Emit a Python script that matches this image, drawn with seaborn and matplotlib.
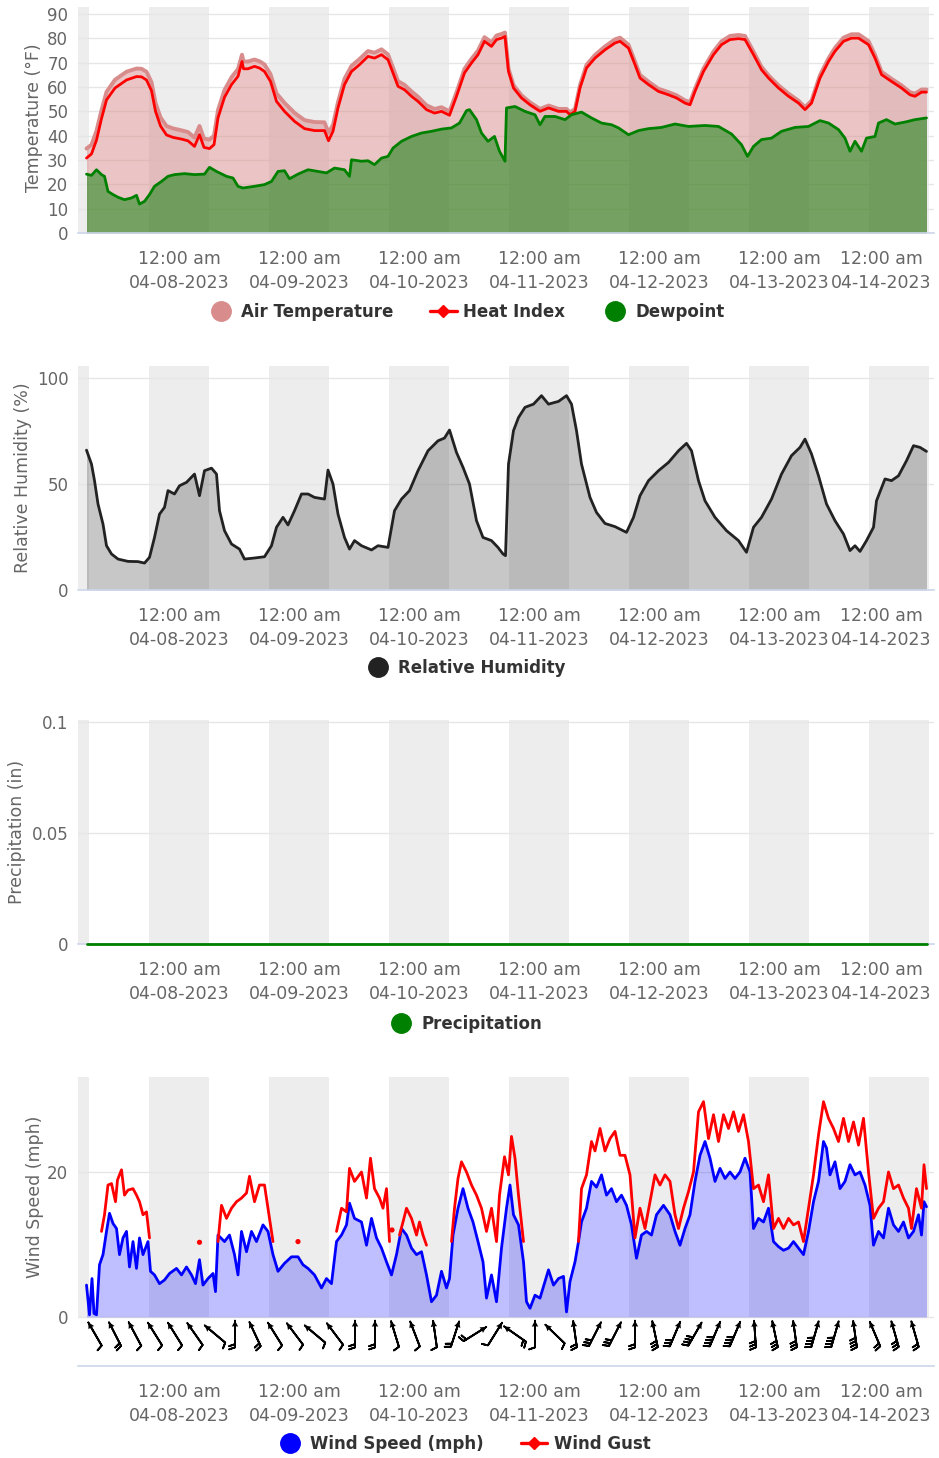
import numpy as np
import pandas as pd
import matplotlib
matplotlib.use("Agg")
import matplotlib.pyplot as plt
import matplotlib.transforms as mtransforms
from matplotlib.lines import Line2D
import seaborn as sns

sns.set_theme(style="white")
plt.rcParams["font.family"] = ["DejaVu Sans"]

# ---------------- data (hours since 2023-04-07 00:00) ----------------
temp_hours = [5.5, 6.5, 7.5, 8.5, 9.5, 11.2, 13.5, 15.5, 16.5, 17.5,
              18.5, 19.3, 20.3, 21.5, 22.8, 24.5, 25.8, 27.1, 28.1, 29.0,
              30.1, 31.0, 31.8, 33.1, 34.5, 35.8, 36.6, 36.9, 37.8, 39.1,
              40.1, 41.1, 42.3, 43.5, 45.1, 47.1, 49.1, 51.1, 53.1, 53.9,
              54.8, 55.8, 57.1, 58.5, 60.1, 61.8, 63.1, 64.5, 65.8, 66.8,
              67.8, 69.1, 70.5, 71.8, 73.5, 75.1, 76.5, 78.1, 79.5, 81.1,
              82.5, 83.8, 85.1, 86.5, 87.5, 88.5, 89.2, 89.9, 90.9, 92.5,
              94.2, 96.2, 97.9, 99.9, 101.5, 102.2, 103.2, 104.2, 105.5, 107.2,
              109.2, 111.2, 112.2, 113.9, 115.2, 116.2, 117.9, 119.9, 121.9, 123.5,
              125.2, 126.2, 127.2, 128.9, 130.9, 132.5, 134.2, 135.9, 137.2, 138.9,
              140.5, 141.9, 143.9, 145.9, 147.9, 149.2, 150.5, 152.2, 153.9, 155.2,
              156.9, 158.5, 159.9, 161.9, 163.2, 164.5, 166.5, 168.5, 170.2, 171.2,
              172.5, 173.5]
heat_index = [30.8, 32.5, 38.2, 47.0, 54.7, 59.6, 62.9, 64.3, 64.2, 62.9,
              58.5, 50.0, 44.0, 40.3, 39.3, 38.6, 37.9, 35.6, 40.4, 35.2,
              34.7, 36.3, 47.3, 55.8, 61.0, 64.4, 70.5, 67.5, 67.5, 68.5,
              67.8, 66.4, 62.3, 54.1, 50.0, 45.9, 42.9, 42.1, 42.1, 37.9,
              41.8, 51.4, 61.0, 66.4, 69.2, 72.6, 71.9, 73.3, 71.2, 65.8,
              60.3, 58.9, 56.2, 54.1, 50.7, 49.3, 50.0, 48.4, 56.2, 65.8,
              69.9, 73.3, 78.8, 76.7, 79.5, 80.1, 80.8, 66.4, 59.6, 55.5,
              52.7, 50.0, 51.4, 50.0, 50.0, 48.6, 50.0, 59.6, 67.8, 71.9,
              75.3, 78.1, 78.8, 76.0, 69.2, 63.7, 61.0, 58.2, 56.8, 55.5,
              53.4, 52.7, 58.2, 66.4, 73.3, 77.4, 79.5, 79.9, 79.5, 73.3,
              67.1, 63.7, 59.6, 56.2, 53.4, 50.7, 53.4, 63.7, 70.5, 74.7,
              78.8, 80.1, 80.1, 77.4, 71.9, 65.1, 62.3, 59.6, 56.8, 56.2,
              57.9, 57.9]
air_temp = [34.7, 36.3, 42.0, 50.5, 58.0, 63.0, 66.3, 67.6, 67.5, 66.3,
            62.0, 53.5, 47.5, 44.0, 43.0, 42.2, 41.5, 39.2, 44.0, 38.8,
            38.4, 40.0, 50.5, 58.8, 64.0, 67.4, 73.3, 70.5, 70.5, 71.3,
            70.6, 69.3, 65.3, 57.4, 53.5, 49.4, 46.4, 45.6, 45.5, 41.2,
            44.5, 53.8, 63.4, 68.7, 71.5, 74.8, 74.1, 75.5, 73.4, 68.0,
            62.4, 60.9, 58.2, 56.0, 52.5, 51.0, 51.7, 50.0, 57.8, 67.5,
            71.6, 75.0, 80.5, 78.4, 81.2, 81.8, 82.4, 67.6, 60.8, 56.6,
            53.7, 51.0, 52.4, 51.0, 51.0, 49.6, 51.0, 60.8, 69.1, 73.2,
            76.7, 79.6, 80.3, 77.4, 70.5, 65.0, 62.2, 59.3, 57.9, 56.6,
            54.5, 53.8, 59.3, 67.6, 74.6, 78.8, 81.0, 81.4, 81.0, 74.6,
            68.3, 64.8, 60.7, 57.3, 54.4, 51.7, 54.4, 64.9, 71.8, 76.1,
            80.3, 81.7, 81.7, 78.9, 73.2, 66.3, 63.4, 60.7, 57.9, 57.3,
            59.0, 59.0]

dew_hours = [5.5, 6.5, 7.5, 8.5, 9.1, 9.8, 10.8, 11.8, 13.1, 14.5,
             15.5, 16.1, 17.1, 18.1, 19.1, 20.5, 21.8, 23.1, 25.1, 27.1,
             29.1, 30.1, 31.5, 33.5, 34.8, 35.8, 36.8, 39.1, 41.1, 42.5,
             43.8, 45.1, 46.1, 47.8, 49.8, 51.8, 53.5, 55.1, 57.1, 58.1,
             58.5, 60.5, 61.8, 63.1, 64.5, 65.8, 66.8, 68.5, 70.5, 72.5,
             74.5, 76.5, 78.5, 80.1, 81.5, 82.1, 83.5, 84.5, 85.8, 87.1,
             88.1, 89.2, 89.5, 91.2, 93.2, 95.2, 96.2, 97.2, 99.2, 101.2,
             102.5, 104.5, 106.5, 108.5, 110.5, 111.9, 113.9, 115.9, 117.9, 120.5,
             123.2, 125.9, 129.2, 131.9, 134.5, 136.5, 137.7, 138.9, 140.5, 142.5,
             144.5, 147.2, 149.9, 152.2, 153.9, 155.9, 157.2, 158.2, 159.2, 160.5,
             161.5, 163.2, 163.9, 165.5, 167.2, 169.2, 171.2, 173.5]
dewpoint = [24.2, 23.7, 26.0, 24.0, 23.3, 17.1, 15.8, 14.7, 13.7, 14.4,
            15.5, 11.9, 13.0, 15.8, 19.2, 21.2, 23.3, 24.0, 24.4, 24.0,
            24.2, 27.0, 25.3, 23.3, 22.6, 19.2, 18.5, 19.2, 19.9, 21.2,
            25.3, 25.6, 22.3, 24.2, 26.0, 25.3, 24.7, 26.7, 26.0, 23.3,
            30.1, 29.5, 29.7, 28.1, 30.8, 31.5, 34.9, 37.7, 39.7, 41.1,
            41.8, 42.7, 43.2, 45.2, 50.3, 50.7, 46.6, 41.1, 37.7, 39.7,
            33.6, 29.5, 51.4, 52.0, 50.0, 48.6, 44.5, 47.9, 47.9, 46.6,
            48.6, 49.7, 47.3, 45.2, 44.5, 43.2, 40.4, 42.1, 42.9, 43.4,
            44.8, 43.8, 44.2, 43.8, 40.7, 36.3, 31.5, 35.6, 38.4, 39.0,
            41.8, 43.4, 43.8, 46.2, 45.2, 42.5, 39.0, 33.6, 37.7, 33.6,
            39.0, 39.7, 45.2, 46.6, 44.8, 45.6, 46.6, 47.3]

rh_hours = [5.5, 6.5, 7.1, 7.8, 8.8, 9.5, 10.5, 11.8, 13.8, 15.8,
            17.1, 18.1, 19.1, 20.1, 21.1, 21.8, 23.1, 24.1, 25.5, 27.1,
            28.1, 29.1, 30.5, 31.5, 32.1, 33.1, 34.5, 36.1, 37.1, 39.1,
            41.1, 42.5, 43.5, 44.8, 45.8, 47.1, 48.5, 49.8, 51.1, 53.1,
            53.8, 54.8, 55.8, 57.1, 58.1, 59.1, 60.5, 62.5, 63.8, 65.8,
            67.1, 68.5, 70.1, 71.8, 73.8, 75.8, 77.1, 78.1, 79.5, 80.8,
            82.1, 83.5, 84.8, 86.5, 87.8, 88.8, 89.3, 89.9, 90.9, 91.9,
            93.2, 94.9, 96.5, 97.9, 99.9, 101.5, 102.5, 103.5, 104.5, 106.2,
            107.5, 109.2, 111.2, 113.5, 114.9, 116.2, 117.9, 119.9, 121.9, 123.9,
            125.5, 126.5, 127.9, 129.2, 131.2, 133.5, 135.9, 137.5, 138.9, 140.5,
            142.5, 144.5, 146.5, 148.2, 149.2, 150.5, 151.9, 153.5, 155.2, 156.9,
            158.2, 159.2, 160.2, 161.5, 162.9, 163.5, 165.2, 166.5, 167.9, 169.5,
            170.9, 172.2, 173.5]
rel_humidity = [66.0, 59.4, 51.6, 40.6, 31.1, 20.9, 17.0, 14.6, 13.5, 13.4,
                12.7, 15.4, 24.8, 35.8, 39.0, 46.9, 45.3, 49.2, 50.8, 54.7,
                44.5, 56.3, 57.5, 54.7, 37.4, 28.0, 21.7, 19.3, 14.6, 15.1,
                15.7, 20.9, 29.6, 34.3, 30.7, 37.4, 45.3, 45.3, 43.7, 42.9,
                56.6, 50.0, 35.8, 24.8, 19.3, 23.3, 20.9, 18.9, 20.9, 20.1,
                37.4, 42.9, 46.9, 56.3, 65.7, 70.4, 71.7, 75.5, 64.9, 57.9,
                50.0, 32.7, 24.8, 23.3, 20.1, 17.0, 16.2, 59.4, 75.2, 81.4,
                86.2, 87.7, 91.7, 87.7, 89.0, 91.7, 87.7, 75.2, 59.4, 43.7,
                36.6, 31.4, 29.9, 27.2, 34.3, 44.5, 51.6, 56.3, 60.2, 65.7,
                69.2, 65.7, 51.6, 42.1, 34.3, 28.0, 23.3, 17.8, 29.6, 34.3,
                42.9, 54.7, 63.4, 67.3, 71.2, 64.2, 53.9, 40.6, 32.7, 26.4,
                18.6, 20.9, 18.2, 23.3, 29.6, 42.1, 52.4, 51.6, 53.9, 61.0,
                68.1, 67.3, 65.4]

precip_hours = [5.5, 173.5]
precipitation = [0.0, 0.0]

wind_hours = [5.5, 6.1, 6.6, 7.0, 7.5, 8.1, 8.8, 9.5, 10.1, 10.8,
              11.5, 12.1, 12.8, 13.5, 14.1, 14.8, 15.5, 16.1, 16.8, 17.8,
              18.3, 19.1, 20.1, 21.1, 22.1, 23.5, 24.5, 25.5, 26.5, 27.3,
              28.1, 28.8, 29.8, 30.8, 31.3, 31.8, 33.1, 34.1, 35.1, 35.8,
              36.5, 37.5, 38.5, 39.5, 40.8, 41.8, 42.8, 43.8, 45.1, 46.5,
              47.8, 48.8, 49.8, 51.1, 52.5, 53.5, 54.5, 55.5, 56.5, 57.5,
              58.1, 59.1, 60.5, 61.5, 62.5, 63.5, 64.5, 65.5, 66.5, 67.5,
              68.5, 69.5, 70.5, 71.5, 72.5, 73.5, 74.5, 75.5, 76.5, 77.5,
              78.1, 78.8, 79.8, 80.8, 81.8, 82.8, 83.8, 84.8, 85.5, 86.5,
              87.5, 88.5, 89.5, 90.2, 90.9, 91.9, 92.9, 93.5, 94.2, 95.2,
              96.2, 97.2, 97.9, 98.9, 99.9, 100.9, 101.5, 102.2, 103.2, 103.9,
              104.5, 105.5, 106.5, 107.5, 108.5, 109.5, 110.5, 111.5, 112.5, 113.5,
              114.5, 115.5, 116.5, 117.5, 118.5, 119.5, 120.9, 122.2, 123.2, 124.2,
              125.2, 126.2, 127.2, 128.2, 129.2, 130.2, 131.2, 132.2, 133.2, 134.2,
              135.2, 136.2, 137.2, 138.2, 138.9, 139.9, 140.9, 141.9, 142.9, 143.9,
              144.9, 145.9, 146.9, 147.9, 148.9, 149.9, 150.9, 151.9, 152.9, 153.5,
              154.2, 155.2, 156.2, 157.2, 158.2, 159.2, 160.2, 161.2, 162.2, 162.9,
              163.9, 164.9, 165.9, 166.9, 167.9, 168.9, 169.9, 170.9, 171.9, 172.5,
              173.0, 173.5]
wind_speed = [4.4, 0.3, 5.3, 0.5, 0.3, 7.2, 8.6, 11.8, 14.3, 12.9,
              12.2, 8.6, 10.9, 11.8, 6.9, 10.4, 6.7, 10.9, 8.6, 10.4,
              6.3, 5.8, 4.6, 5.1, 6.0, 6.7, 5.8, 6.9, 5.8, 4.6,
              7.9, 4.4, 5.3, 6.0, 3.5, 11.3, 10.4, 11.3, 8.6, 5.8,
              11.8, 9.0, 11.8, 10.4, 12.7, 11.8, 8.6, 6.3, 7.4, 8.3,
              8.3, 7.2, 6.7, 5.8, 4.0, 5.3, 4.6, 10.4, 11.3, 12.7,
              15.7, 13.6, 13.1, 9.9, 13.6, 10.9, 9.5, 7.6, 5.8, 8.6,
              12.2, 11.3, 9.5, 8.6, 9.0, 5.8, 2.1, 3.0, 6.3, 4.0,
              5.3, 11.3, 15.0, 17.7, 15.0, 13.1, 10.4, 7.6, 2.6, 5.8,
              2.1, 9.5, 15.0, 18.2, 14.1, 12.7, 7.6, 2.1, 1.2, 3.0,
              2.6, 4.9, 6.5, 4.4, 5.3, 5.6, 0.7, 4.9, 7.6, 10.4,
              13.1, 15.0, 18.7, 17.9, 19.6, 16.8, 17.7, 15.9, 16.8, 15.4,
              12.7, 8.1, 11.3, 11.8, 11.3, 14.1, 15.4, 14.1, 11.8, 9.9,
              12.2, 14.1, 18.7, 22.3, 24.2, 21.9, 18.7, 20.5, 19.1, 20.0,
              19.1, 20.0, 21.9, 20.0, 12.2, 13.6, 13.1, 15.0, 10.4, 9.7,
              9.2, 9.5, 10.4, 9.5, 8.6, 11.8, 15.9, 18.7, 24.2, 23.3,
              19.6, 21.4, 17.7, 18.7, 21.0, 19.6, 20.0, 18.2, 15.4, 9.9,
              11.8, 10.9, 15.0, 12.7, 11.8, 13.1, 10.9, 11.8, 14.1, 11.3,
              15.9, 15.2]

# None marks a gap in the gust record
gust_hours = [8.5, 9.1, 9.8, 10.5, 11.3, 11.7, 12.5, 13.1, 13.8, 14.8, 15.5, 16.1, 16.8, 17.5, 18.1, None,
              28.1, None,
              31.8, 32.5, 33.5, 34.5, 35.5, 36.5, 37.5, 38.1, 39.1, 40.1, 41.1, 42.1, 42.8, None,
              47.8, None,
              55.5, 56.5, 57.5, 58.1, 59.1, 60.5, 61.5, 62.3, 63.1, 64.1, 64.8, 65.5, 66.1, None,
              66.6, None,
              68.1, 68.8, 69.5, 70.5, 71.5, 72.1, 72.8, 73.5, None,
              78.5, 79.1, 79.8, 80.5, 81.5, 82.5, 83.5, 84.5, 85.5, 86.5, 87.5, 88.1, 89.1, 89.9,
              90.5, 91.2, 91.9, 92.9, None,
              103.9, 104.5, 105.5, 106.5, 107.2, 108.2, 109.2, 110.2, 111.2, 112.2, 113.2, 114.2,
              115.2, 116.2, 117.2, 118.2, 119.2, 120.2, 121.2, 122.2, 123.2, 123.9, 124.9, 125.9,
              126.9, 127.9, 128.9, 129.9, 130.9, 131.9, 132.9, 133.9, 134.9, 135.9, 136.9, 137.9,
              138.9, 139.9, 140.9, 141.9, 142.9, 143.9, 144.9, 145.9, 146.9, 147.9, 148.9, 149.9,
              150.9, 151.9, 152.9, 153.9, 154.9, 155.9, 156.9, 157.9, 158.9, 159.9, 160.9, 161.9,
              162.9, 163.9, 164.9, 165.9, 166.9, 167.9, 168.9, 169.9, 170.5, 171.5, 172.5, 173.0, 173.5]
wind_gust = [11.8, 14.1, 18.2, 18.4, 15.9, 18.9, 20.3, 16.8, 17.5, 17.7, 16.8, 15.9, 14.1, 14.5, 10.9, None,
             10.3, None,
             10.4, 15.4, 13.6, 15.0, 15.9, 16.4, 17.1, 19.4, 15.9, 18.2, 18.2, 13.6, 10.4, None,
             10.4, None,
             11.8, 15.0, 14.5, 20.5, 18.7, 20.0, 16.4, 21.9, 17.7, 16.4, 15.0, 17.7, 10.4, None,
             12.0, None,
             11.3, 13.1, 15.0, 13.6, 11.3, 13.1, 11.3, 9.9, None,
             10.4, 15.0, 19.1, 21.4, 20.0, 18.2, 16.8, 15.0, 11.8, 15.0, 10.4, 16.8, 22.1, 19.6,
             24.9, 21.9, 16.8, 10.4, None,
             10.4, 17.7, 19.6, 24.2, 22.9, 26.0, 22.9, 24.6, 25.6, 22.3, 22.3, 19.6,
             10.9, 15.0, 12.2, 15.9, 19.6, 18.2, 19.6, 18.7, 14.1, 12.2, 15.0, 17.3,
             20.0, 28.3, 29.7, 24.6, 27.9, 24.2, 27.9, 26.0, 28.3, 25.6, 27.9, 24.2,
             17.7, 18.2, 15.9, 19.6, 12.2, 13.6, 12.2, 13.6, 12.7, 13.1, 10.4, 15.0,
             19.6, 25.1, 29.7, 27.4, 26.0, 24.2, 27.4, 24.2, 26.9, 23.7, 27.4, 20.0,
             13.6, 15.0, 15.9, 20.0, 17.7, 18.2, 16.4, 15.0, 12.2, 17.7, 15.0, 21.0, 17.7]

barb_hours = [7.2, 11.2, 15.2, 19.2, 23.2, 27.2, 31.2, 35.2, 39.2, 43.2,
              47.2, 51.2, 55.2, 59.2, 63.2, 67.2, 71.2, 75.2, 79.2, 83.2,
              87.2, 91.2, 95.2, 99.2, 103.2, 107.2, 111.2, 115.2, 119.2, 123.2,
              127.2, 131.2, 135.2, 139.2, 143.2, 147.2, 151.2, 155.2, 159.2, 163.2,
              167.2, 171.2]
barb_dir_to = [330, 333, 332, 328, 328, 325, 310, 0, 335, 328,
               323, 310, 323, 0, 0, 343, 339, 352, 18, 58,
               32, 305, 0, 314, 352, 27, 27, 0, 348, 23,
               30, 23, 23, 356, 348, 352, 16, 16, 352, 337,
               344, 344]
barb_level = [1, 2, 1, 1, 1, 1, 1, 2, 2, 1,
              1, 1, 1, 2, 2, 1, 1, 1, 2, 2,
              1, 2, 1, 1, 2, 3, 3, 2, 3, 3,
              4, 4, 4, 3, 3, 3, 4, 4, 4, 2,
              3, 2]

night_start = [-6, 18, 42, 66, 90, 114, 138, 162]
tick_hours = [24, 48, 72, 96, 120, 144, 168]
tick_labels = ["12:00 am\n04-08-2023", "12:00 am\n04-09-2023", "12:00 am\n04-10-2023",
               "12:00 am\n04-11-2023", "12:00 am\n04-12-2023", "12:00 am\n04-13-2023",
               "12:00 am\n04-14-2023"]

# ---------------- styling constants ----------------
W, H = 939, 1458
AT_COLOR = "#d98c8c"
HI_COLOR = "#ff0000"
DP_COLOR = "#008000"
RH_COLOR = "#222222"
WS_COLOR = "#0000ff"
GRID = "#e6e6e6"
AXIS = "#ccd6eb"
TXT = "#666666"
BAND = "#ededed"

fig = plt.figure(figsize=(W / 100, H / 100), dpi=100)
fig.patch.set_facecolor("white")


def box(top, bottom):
    return [78 / W, 1 - bottom / H, 856 / W, (bottom - top) / H]


ax1 = fig.add_axes(box(7, 233))
ax2 = fig.add_axes(box(366, 590))
ax3 = fig.add_axes(box(720, 944))
ax4 = fig.add_axes(box(1077, 1366))


def style(ax, ylim, yticks, yticklabels):
    ax.set_facecolor("white")
    ax.set_xlim(3.8, 175)
    ax.set_ylim(*ylim)
    for s in ["top", "right", "left"]:
        ax.spines[s].set_visible(False)
    ax.spines["bottom"].set_color(AXIS)
    ax.spines["bottom"].set_linewidth(1.2)
    ax.set_yticks(yticks)
    ax.set_yticklabels(yticklabels)
    ax.set_xticks(tick_hours)
    ax.set_xticklabels(tick_labels)
    ax.tick_params(axis="y", length=0, pad=7, labelsize=12, labelcolor=TXT)
    ax.tick_params(axis="x", length=7, width=1.2, color=AXIS, pad=5.5,
                   labelsize=12.5, labelcolor=TXT)
    for lab in ax.get_xticklabels():
        lab.set_linespacing(1.4)
    labs = ax.get_xticklabels()
    labs[-1].set_transform(labs[-1].get_transform() +
                           mtransforms.ScaledTranslation(-0.18, 0, fig.dpi_scale_trans))
    ax.grid(False)
    for y in yticks:
        ax.axhline(y, color=GRID, lw=1, zorder=0.5)
    y0, y1 = ylim
    frac0 = (max(0, y0) - y0) / (y1 - y0)
    for s in night_start:
        ax.axvspan(s, s + 12, ymin=frac0, ymax=1, color=BAND, lw=0, zorder=0)
    ax.set_xlabel("")
    ax.set_ylabel("")


# ---- panel 1: temperature ----
style(ax1, (0, 92.9), [0, 10, 20, 30, 40, 50, 60, 70, 80, 90],
      ["0", "10", "20", "30", "40", "50", "60", "70", "80", "90"])
ax1.fill_between(temp_hours, 0, air_temp, color=AT_COLOR, alpha=0.5, lw=0, zorder=1)
ax1.fill_between(dew_hours, 0, dewpoint, color=DP_COLOR, alpha=0.5, lw=0, zorder=1.1)
sns.lineplot(x=temp_hours, y=air_temp, ax=ax1, color=AT_COLOR, lw=2.8,
             estimator=None, sort=False, zorder=2)
sns.lineplot(x=temp_hours, y=heat_index, ax=ax1, color=HI_COLOR, lw=2.0,
             estimator=None, sort=False, zorder=3)
sns.lineplot(x=dew_hours, y=dewpoint, ax=ax1, color=DP_COLOR, lw=2.0,
             estimator=None, sort=False, zorder=3)

# ---- panel 2: relative humidity ----
style(ax2, (0, 105.7), [0, 50, 100], ["0", "50", "100"])
ax2.fill_between(rh_hours, 0, rel_humidity, color=RH_COLOR, alpha=0.25, lw=0, zorder=1)
sns.lineplot(x=rh_hours, y=rel_humidity, ax=ax2, color=RH_COLOR, lw=2.0,
             estimator=None, sort=False, zorder=3)

# ---- panel 3: precipitation ----
style(ax3, (0, 0.1009), [0, 0.05, 0.1], ["0", "0.05", "0.1"])
sns.lineplot(x=precip_hours, y=precipitation, ax=ax3, color=DP_COLOR, lw=2.0,
             estimator=None, sort=False, zorder=3, clip_on=False)

# ---- panel 4: wind ----
style(ax4, (-6.76, 33.1), [0, 20], ["0", "20"])
ax4.fill_between(wind_hours, 0, wind_speed, color=WS_COLOR, alpha=0.25, lw=0, zorder=1)
sns.lineplot(x=wind_hours, y=wind_speed, ax=ax4, color=WS_COLOR, lw=2.0,
             estimator=None, sort=False, zorder=3)
g = pd.DataFrame({"t": pd.to_numeric(pd.Series(gust_hours), errors="coerce"),
                  "v": pd.to_numeric(pd.Series(wind_gust), errors="coerce")})
g["seg"] = g["v"].isna().cumsum()
g = g.dropna()
n_in_seg = g.groupby("seg")["t"].transform("size")
g_lines = g[n_in_seg > 1]
g_dots = g[n_in_seg == 1]
sns.lineplot(data=g_lines, x="t", y="v", units="seg", estimator=None, sort=False,
             ax=ax4, color=HI_COLOR, lw=2.0, zorder=4)
sns.scatterplot(data=g_dots, x="t", y="v", ax=ax4, color=HI_COLOR, s=14,
                edgecolor="none", zorder=4)
ax4.set_xlabel("")
ax4.set_ylabel("")

theta = np.deg2rad(np.array(barb_dir_to, dtype=float))
bu = np.sin(theta)
bv = np.cos(theta)
spd = np.array(barb_level, dtype=float) * 10
by = np.full(len(barb_hours), -2.35)
ax4.barbs(barb_hours, by, bu * spd, bv * spd, pivot="middle", length=6.2,
          sizes=dict(spacing=0.12, height=0.22, width=0.15),
          linewidth=1.3, color="black", zorder=5)
ax4.quiver(barb_hours, by, bu, bv, pivot="middle", angles="uv",
           scale_units="dots", scale=1 / 27.0, units="dots", width=1.8,
           headwidth=3.6, headlength=3.4, headaxislength=3.2,
           color="black", zorder=6)

# ---- y-axis titles ----
for (cx, cy, txt) in [(34, 118, "Temperature (°F)"), (23, 478, "Relative Humidity (%)"),
                      (17, 832, "Precipitation (in)"), (35, 1197, "Wind Speed (mph)")]:
    fig.text(cx / W, 1 - cy / H, txt, rotation=90, ha="center", va="center",
             fontsize=12.5, color=TXT)

# ---- legends ----
def circle(color):
    return Line2D([], [], marker="o", linestyle="none", markersize=14,
                  markerfacecolor=color, markeredgecolor=color)


def linemark(color):
    return Line2D([], [], color=color, lw=2.4, marker="D", markersize=6,
                  markerfacecolor=color, markeredgecolor=color)


leg_kw = dict(loc="center", frameon=False, handlelength=1.6, handletextpad=0.4,
              columnspacing=2.2, prop=dict(weight="bold", size=12),
              labelcolor="#333333", bbox_transform=fig.transFigure)

fig.legend([circle(AT_COLOR), linemark(HI_COLOR), circle(DP_COLOR)],
           ["Air Temperature", "Heat Index", "Dewpoint"], ncol=3,
           bbox_to_anchor=(466 / W, 1 - 312 / H), **leg_kw)
fig.legend([circle(RH_COLOR)], ["Relative Humidity"], ncol=1,
           bbox_to_anchor=(465 / W, 1 - 668 / H), **leg_kw)
fig.legend([circle(DP_COLOR)], ["Precipitation"], ncol=1,
           bbox_to_anchor=(465 / W, 1 - 1024 / H), **leg_kw)
fig.legend([circle(WS_COLOR), linemark(HI_COLOR)], ["Wind Speed (mph)", "Wind Gust"], ncol=2,
           bbox_to_anchor=(464 / W, 1 - 1444 / H), **leg_kw)

fig.savefig("out.png", dpi=100, facecolor="white")
